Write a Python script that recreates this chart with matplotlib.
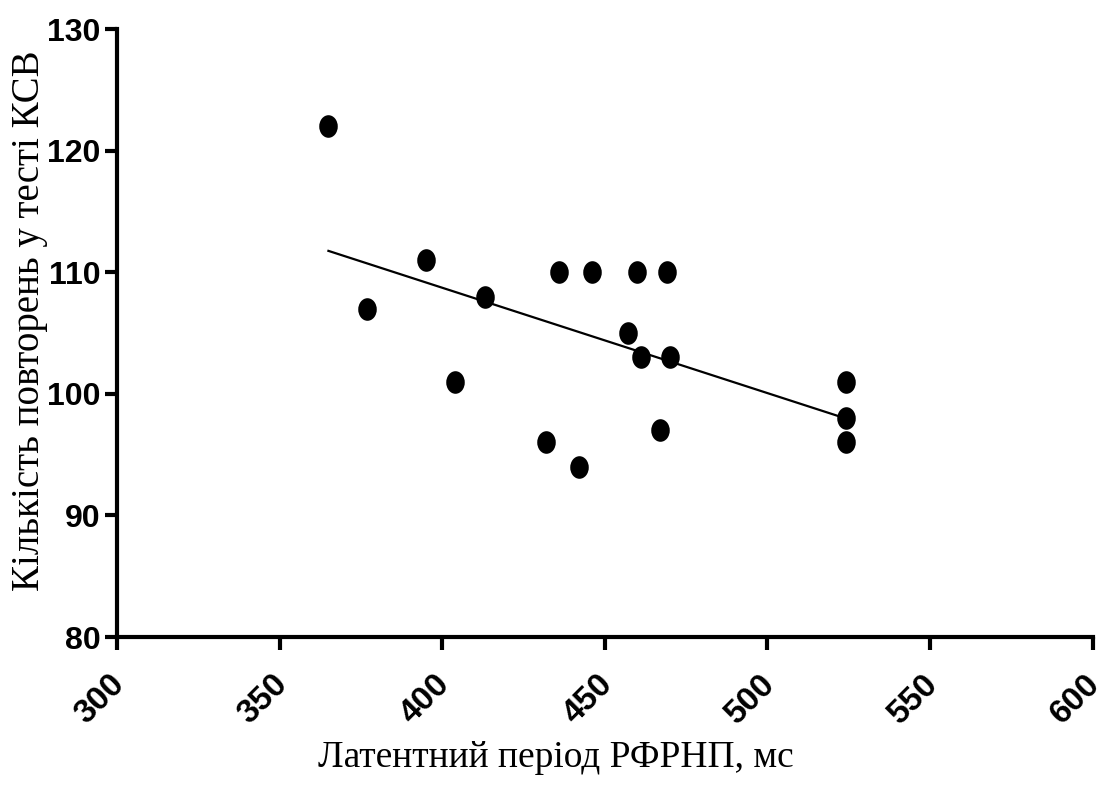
import matplotlib
matplotlib.use("Agg")

import numpy as np
import matplotlib.pyplot as plt
from matplotlib.path import Path
from matplotlib.transforms import Affine2D, ScaledTranslation

latency_ms = [365, 377, 395, 404, 413, 432, 436, 442, 446, 457, 460, 461, 467, 469, 470, 524, 524, 524]
repeats = [122, 107, 111, 101, 108, 96, 110, 94, 110, 105, 110, 103, 97, 110, 103, 101, 98, 96]

x_ticks = [300, 350, 400, 450, 500, 550, 600]
y_ticks = [80, 90, 100, 110, 120, 130]

x_label = "Латентний період РФРНП, мс"
y_label = "Кількість повторень у тесті КСВ"

tick_font = ["Liberation Sans Narrow", "Liberation Sans", "DejaVu Sans"]
label_font = ["Liberation Serif", "DejaVu Serif"]

# slightly tall ellipse marker
ellipse = Path.unit_circle().transformed(Affine2D().scale(0.82, 1.0))

fig = plt.figure(figsize=(11.05, 7.85), dpi=100)
ax = fig.add_axes([0.1059, 0.1885, 0.883, 0.7745])

x = np.array(latency_ms)
y = np.array(repeats)
ax.scatter(x, y, s=265, marker=ellipse, color="black", zorder=3, linewidths=0)

slope, icpt = np.polyfit(x, y, 1)
xl = np.array([x.min(), x.max()])
ax.plot(xl, slope * xl + icpt, color="black", lw=1.6, zorder=2)

ax.set_xlim(300, 600)
ax.set_ylim(80, 130)
ax.set_xticks(x_ticks)
ax.set_yticks(y_ticks)

ax.spines["top"].set_visible(False)
ax.spines["right"].set_visible(False)
for s in ("left", "bottom"):
    ax.spines[s].set_linewidth(3)

ax.tick_params(direction="out", length=9, width=3, pad=3)
ax.tick_params(axis="x", pad=14)
for lab in ax.get_yticklabels():
    lab.set_fontfamily(tick_font)
    lab.set_fontweight("bold")
    lab.set_fontsize(23)
ax.set_xticklabels([str(t) for t in x_ticks], rotation=45, ha="right", va="top",
                   rotation_mode="anchor", family=tick_font, fontweight="heavy", fontsize=24)
shift = ScaledTranslation(-8 / 100, 0, fig.dpi_scale_trans)
for lab in ax.get_xticklabels():
    lab.set_transform(lab.get_transform() + shift)

ax.set_xlabel(x_label, family=label_font, fontsize=27)
ax.set_ylabel(y_label, family=label_font, fontsize=28)
ax.xaxis.set_label_coords(0.45, -0.171)
ax.yaxis.set_label_coords(-0.071, 0.521)

plt.savefig("out.png", dpi=100)
